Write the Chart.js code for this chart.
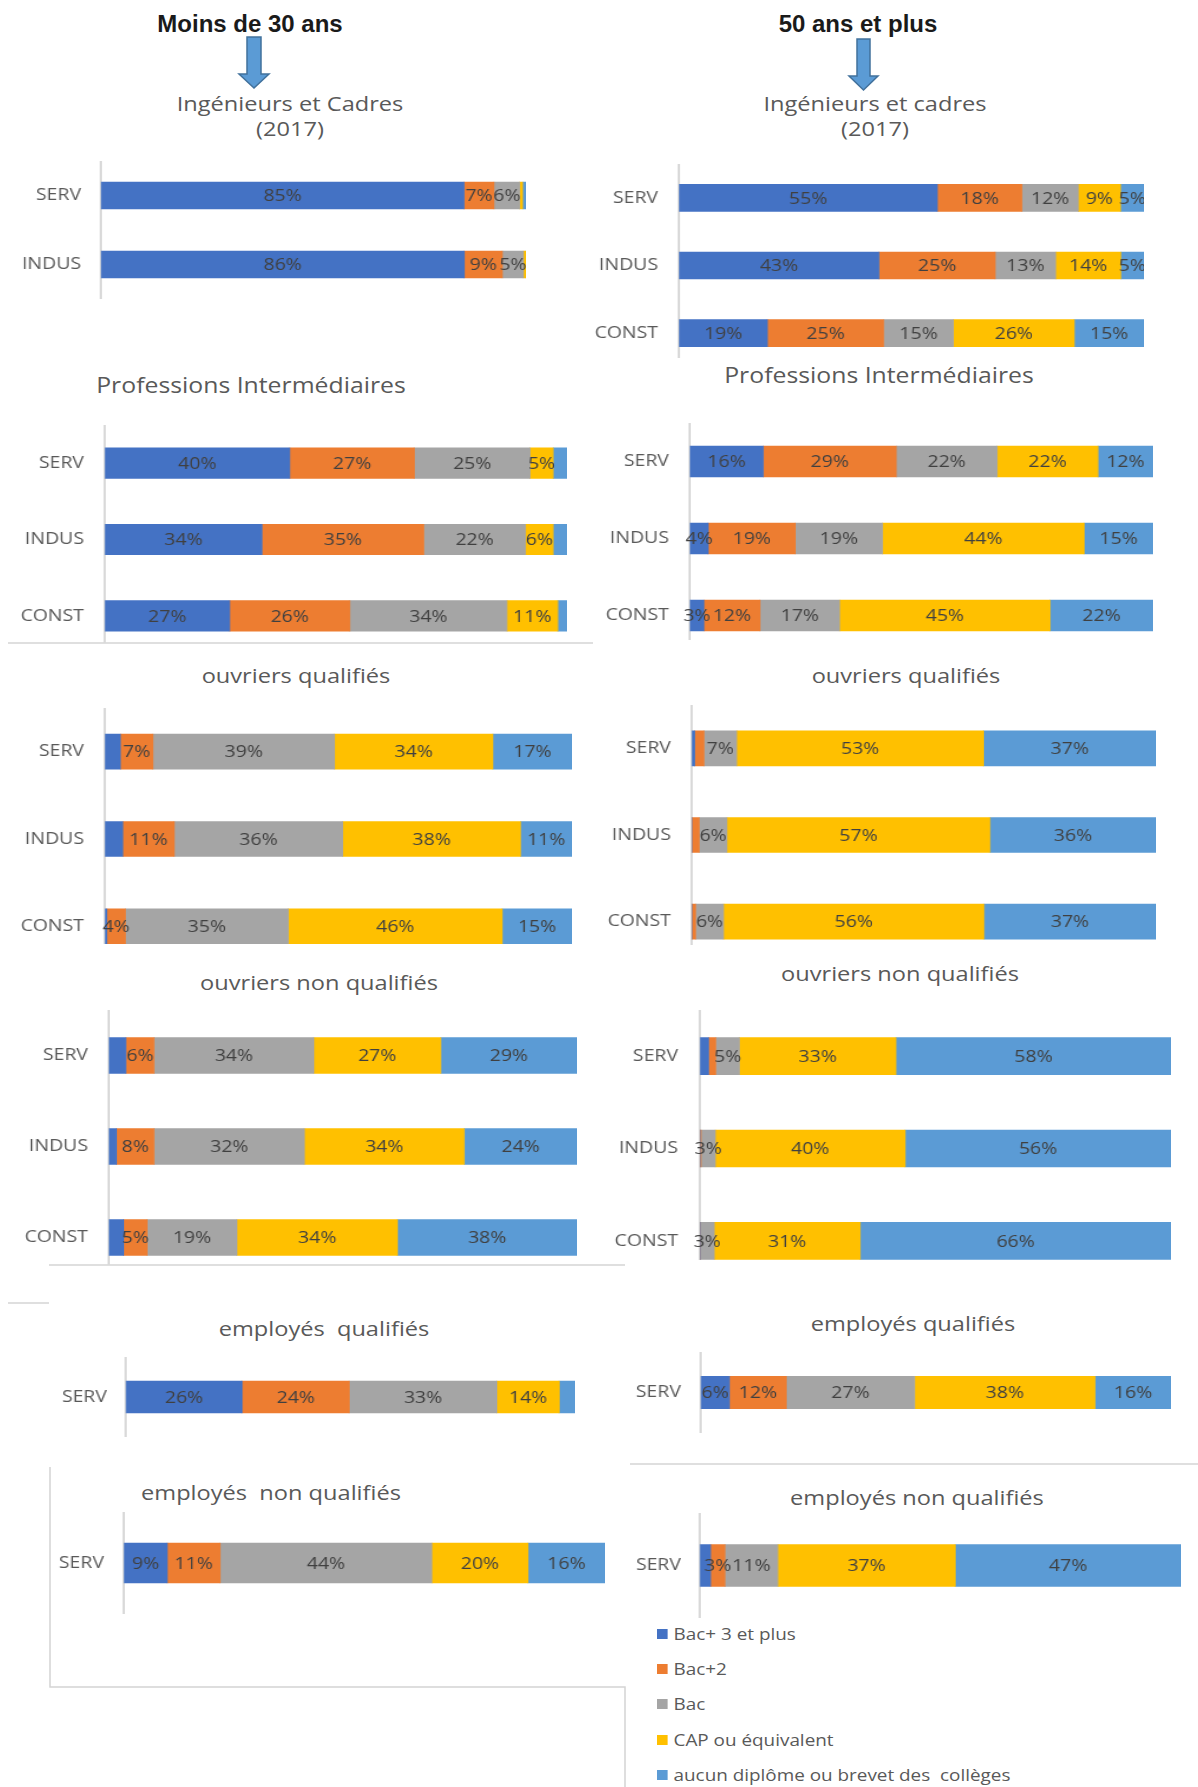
<!DOCTYPE html>
<html lang="fr">
<head>
<meta charset="utf-8">
<title>Diplômes par catégorie et secteur</title>
<script src="https://cdn.jsdelivr.net/npm/chart.js@4.4.1/dist/chart.umd.min.js"></script>
<style>
    html, body { margin: 0; padding: 0; background: #fff; }
    body { width: 1198px; height: 1787px; position: relative; overflow: hidden; font-family: "Open Sans", "DejaVu Sans", sans-serif; }
    .head { position: absolute; transform: translate(-50%, -50%); font: bold 24px "Liberation Sans", Arial, sans-serif; color: #1a1a1a; white-space: nowrap; line-height: 1; }
    .title { position: absolute; color: #595959; white-space: pre; text-align: center; line-height: 25px; }
    .clip { position: absolute; overflow: hidden; }
    .clip canvas { display: block; }
    #legend { position: absolute; left: 657px; top: 1616px; transform: scaleX(1.18); transform-origin: 0 0; color: #595959; font-size: 16px; }
    #legend .item { display: flex; align-items: center; height: 35.3px; white-space: pre; }
    #legend .sw { width: 9px; height: 10px; margin-right: 5px; }
</style>
</head>
<body>
<div class="head" style="left:250px; top:24px;">Moins de 30 ans</div>
<div class="head" style="left:858px; top:24px;">50 ans et plus</div>
<svg width="1198" height="1787" style="position:absolute; left:0; top:0;">
    <polygon points="247,37 261,37 261,74 269,74 254,88 239,74 247,74" fill="#5B9BD5" stroke="#41719C" stroke-width="1.5"/>
    <polygon points="857,39 870,39 870,76 878,76 863.5,90 849,76 857,76" fill="#5B9BD5" stroke="#41719C" stroke-width="1.5"/>
    <g stroke="#d4d4d4" stroke-width="1.5" fill="none">
        <line x1="8" y1="643" x2="593" y2="643"/>
        <line x1="49" y1="1265" x2="625" y2="1265"/>
        <line x1="8" y1="1303" x2="49" y2="1303"/>
        <polyline points="50,1467 50,1687 625,1687 625,1787"/>
        <line x1="630" y1="1464" x2="1198" y2="1464"/>
    </g>
</svg>
<div id="legend"></div>

<script>
"use strict";

/* series (niveau de diplôme) and sectors */
var SERIES = ['Bac+ 3 et plus', 'Bac+2', 'Bac', 'CAP ou équivalent', 'aucun diplôme ou brevet des  collèges'];
var COLORS = ['#4472C4', '#ED7D31', '#A5A5A5', '#FFC000', '#5B9BD5'];
var SECTORS_1 = ['SERV'];
var SECTORS_2 = ['SERV', 'INDUS'];
var SECTORS_3 = ['SERV', 'INDUS', 'CONST'];

/* moins de 30 ans : one row per sector, columns in SERIES order (%) */
var jeunesCadres = [[85, 7, 6, 0.7, 0.8], [86, 9, 5, 0.6, 0]];
var jeunesInter = [[40, 27, 25, 5, 3], [34, 35, 22, 6, 3], [27, 26, 34, 11, 2]];
var jeunesOuvQ = [[3.3, 7, 39, 34, 17], [3.8, 11, 36, 38, 11], [0.4, 4, 35, 46, 15]];
var jeunesOuvNQ = [[3.6, 6, 34, 27, 29], [1.6, 8, 32, 34, 24], [3.1, 5, 19, 34, 38]];
var jeunesEmpQ = [[26, 24, 33, 14, 3.5]];
var jeunesEmpNQ = [[9, 11, 44, 20, 16]];

/* 50 ans et plus */
var seniorsCadres = [[55, 18, 12, 9, 5], [43, 25, 13, 14, 5], [19, 25, 15, 26, 15]];
var seniorsInter = [[16, 29, 22, 22, 12], [4, 19, 19, 44, 15], [3, 12, 17, 45, 22]];
var seniorsOuvQ = [[0.6, 2, 7, 53, 37], [0, 1.6, 6, 57, 36], [0, 0.8, 6, 56, 37]];
var seniorsOuvNQ = [[1.8, 1.5, 5, 33, 58], [0, 0.2, 3, 40, 56], [0, 0, 3, 31, 66]];
var seniorsEmpQ = [[6, 12, 27, 38, 16]];
var seniorsEmpNQ = [[2.2, 3, 11, 37, 47]];

/* page layout */
var S = 1.18;      // horizontal stretch of the original picture
var LA = 110;      // room left of the axis for sector labels
var FONT = '"Open Sans", "DejaVu Sans", sans-serif';

var panels = [
    { title: 'Ingénieurs et Cadres\n(2017)', rows: jeunesCadres, cats: SECTORS_2, tx: 290, ty: 115.5, ts: 20, ax: 101, end: 526, top: 161, bot: 299, clip: 299, barH: 27, gap: 20, min: 4 },
    { title: 'Ingénieurs et cadres\n(2017)', rows: seniorsCadres, cats: SECTORS_3, tx: 875, ty: 115.5, ts: 20, ax: 679, end: 1144, top: 164, bot: 366.5, clip: 358, barH: 27, gap: 21, min: 2.5 },
    { title: 'Professions Intermédiaires', rows: jeunesInter, cats: SECTORS_3, tx: 251, ty: 385, ts: 21, ax: 104.5, end: 567, top: 424.7, bot: 654, clip: 643, barH: 30.5, gap: 21, min: 4 },
    { title: 'Professions Intermédiaires', rows: seniorsInter, cats: SECTORS_3, tx: 879, ty: 375, ts: 21, ax: 689.7, end: 1152.6, top: 422.8, bot: 653.8, clip: 640, barH: 30.7, gap: 21, min: 2.5 },
    { title: 'ouvriers qualifiés', rows: jeunesOuvQ, cats: SECTORS_3, tx: 296, ty: 675, ts: 20, ax: 104.5, end: 571.4, top: 707.5, bot: 969.4, clip: 944, barH: 35, gap: 21, min: 4 },
    { title: 'ouvriers qualifiés', rows: seniorsOuvQ, cats: SECTORS_3, tx: 906, ty: 675, ts: 20, ax: 691.6, end: 1156, top: 704.8, bot: 965, clip: 945, barH: 35, gap: 21, min: 2.5 },
    { title: 'ouvriers non qualifiés', rows: jeunesOuvNQ, cats: SECTORS_3, tx: 319, ty: 982, ts: 20, ax: 108.7, end: 576.5, top: 1009.8, bot: 1283, clip: 1265, barH: 36, gap: 21, min: 4 },
    { title: 'ouvriers non qualifiés', rows: seniorsOuvNQ, cats: SECTORS_3, tx: 900, ty: 973, ts: 20, ax: 700, end: 1171, top: 1009.7, bot: 1286.5, clip: 1260, barH: 37, gap: 22, min: 2.5 },
    { title: 'employés  qualifiés', rows: jeunesEmpQ, cats: SECTORS_1, tx: 324, ty: 1328, ts: 20, ax: 125.8, end: 575.7, top: 1357, bot: 1437, clip: 1437, barH: 31.7, gap: 19, min: 4 },
    { title: 'employés qualifiés', rows: seniorsEmpQ, cats: SECTORS_1, tx: 913, ty: 1323, ts: 20, ax: 700.7, end: 1171.7, top: 1352, bot: 1433, clip: 1433, barH: 32.3, gap: 20, min: 2.5 },
    { title: 'employés  non qualifiés', rows: jeunesEmpNQ, cats: SECTORS_1, tx: 271, ty: 1492, ts: 20, ax: 123.7, end: 604.3, top: 1512, bot: 1614, clip: 1614, barH: 40, gap: 20, min: 4 },
    { title: 'employés non qualifiés', rows: seniorsEmpNQ, cats: SECTORS_1, tx: 917, ty: 1497, ts: 20, ax: 700, end: 1181.6, top: 1513, bot: 1618, clip: 1618, barH: 42, gap: 19, min: 2.5 }
];

/* value labels in the middle of each segment */
var segmentLabels = {
    id: 'segmentLabels',
    afterDatasetsDraw: function (chart, args, opts) {
        var ctx = chart.ctx;
        ctx.save();
        ctx.font = '16.5px ' + FONT;
        ctx.fillStyle = '#404040';
        ctx.textAlign = 'center';
        ctx.textBaseline = 'middle';
        chart.data.datasets.forEach(function (ds, i) {
            chart.getDatasetMeta(i).data.forEach(function (bar, j) {
                var v = ds.shown[j];
                if (v < opts.min) return;
                var p = bar.getCenterPoint();
                ctx.fillText(Math.round(v) + '%', p.x, p.y + 1);
            });
        });
        ctx.restore();
    }
};

panels.forEach(function (p) {
    /* title */
    var t = document.createElement('div');
    t.className = 'title';
    t.textContent = p.title;
    t.style.fontSize = p.ts + 'px';
    t.style.left = p.tx + 'px';
    t.style.top = p.ty + 'px';
    t.style.transform = 'translate(-50%, -50%) scaleX(' + S + ')';
    document.body.appendChild(t);

    /* canvas, drawn narrow and stretched like the source */
    var fullW = LA + p.end - p.ax;
    var box = document.createElement('div');
    box.className = 'clip';
    box.style.left = (p.ax - LA) + 'px';
    box.style.top = p.top + 'px';
    box.style.width = (fullW + 4) + 'px';
    box.style.height = (p.clip - p.top) + 'px';
    var cv = document.createElement('canvas');
    var w = Math.round(fullW / S);
    var h = Math.round(p.bot - p.top);
    cv.width = w;
    cv.height = h;
    cv.style.width = (w * S) + 'px';
    cv.style.height = h + 'px';
    box.appendChild(cv);
    document.body.appendChild(box);

    /* 100 % stacked : each sector normalised to its own total */
    var datasets = SERIES.map(function (name, i) {
        return {
            label: name,
            data: p.rows.map(function (r) {
                var tot = r.reduce(function (a, b) { return a + b; }, 0);
                return r[i] / tot * 100;
            }),
            shown: p.rows.map(function (r) { return r[i]; }),
            backgroundColor: COLORS[i],
            borderWidth: 0,
            barThickness: p.barH
        };
    });

    new Chart(cv.getContext('2d'), {
        type: 'bar',
        data: { labels: p.cats, datasets: datasets },
        options: {
            indexAxis: 'y',
            responsive: false,
            animation: false,
            devicePixelRatio: 1,
            layout: { padding: 0 },
            plugins: {
                legend: { display: false },
                tooltip: { enabled: false },
                segmentLabels: { min: p.min }
            },
            scales: {
                x: { stacked: true, min: 0, max: 100, display: false },
                y: {
                    stacked: true,
                    grid: { display: false, drawTicks: false },
                    border: { display: true, color: '#d9d9d9', width: 2 },
                    ticks: { color: '#595959', font: { family: FONT, size: 16.5 }, padding: p.gap / S, autoSkip: false },
                    afterFit: function (scale) {
                        scale.width = LA / S;
                        scale.paddingTop = 0;
                        scale.paddingBottom = 0;
                    }
                }
            }
        },
        plugins: [segmentLabels]
    });
});

/* legend */
var legend = document.getElementById('legend');
SERIES.forEach(function (name, i) {
    var it = document.createElement('div');
    it.className = 'item';
    var sw = document.createElement('span');
    sw.className = 'sw';
    sw.style.background = COLORS[i];
    var tx = document.createElement('span');
    tx.textContent = name;
    it.appendChild(sw);
    it.appendChild(tx);
    legend.appendChild(it);
});
</script>
</body>
</html>
